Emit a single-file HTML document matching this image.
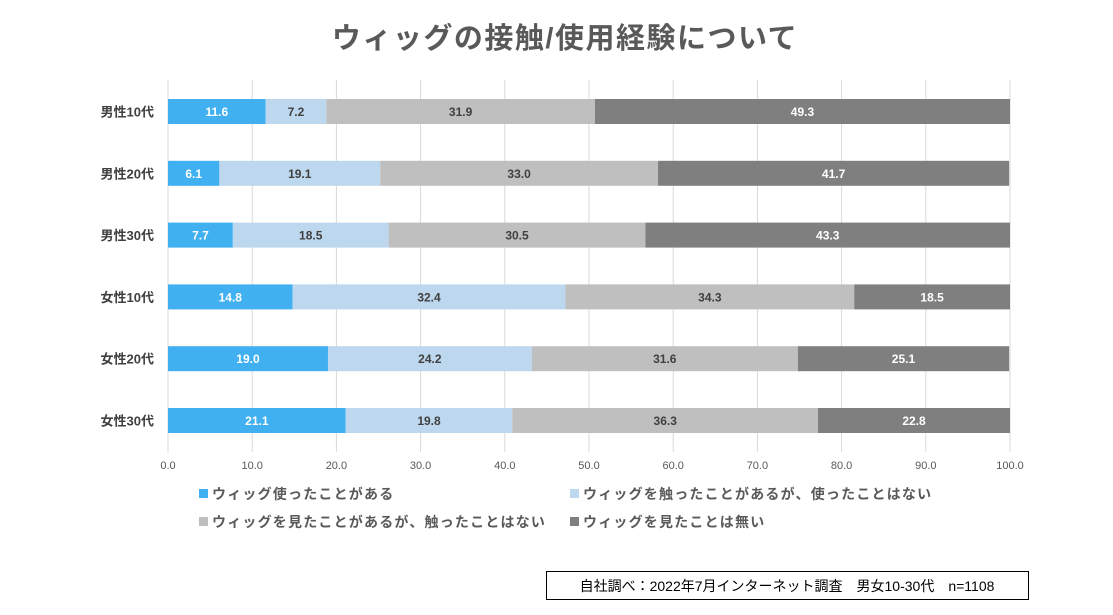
<!DOCTYPE html>
<html><head><meta charset="utf-8"><style>
body{margin:0;background:#fff;width:1113px;height:610px;overflow:hidden;font-family:"Liberation Sans","Noto Sans CJK JP",sans-serif}
</style></head><body>
<svg width="1113" height="610" xmlns="http://www.w3.org/2000/svg" font-family="Liberation Sans, Noto Sans CJK JP, sans-serif">
<text x="565" y="48" text-anchor="middle" font-size="29" font-weight="bold" fill="#595959" letter-spacing="1.5">ウィッグの接触/使用経験について</text>
<g id="grid"></g>
<g id="bars"></g>
<g id="ylab"></g>
<g id="xlab"></g>
<g id="legend"></g>
<rect x="546.5" y="571.5" width="482" height="28" fill="#fff" stroke="#000"/>
<text x="787" y="591" text-anchor="middle" font-size="14" fill="#000">自社調べ：2022年7月インターネット調査　男女10-30代　n=1108</text>
</svg>
<script>
const categories=["男性10代","男性20代","男性30代","女性10代","女性20代","女性30代"];
const used=[11.6,6.1,7.7,14.8,19.0,21.1];
const touched=[7.2,19.1,18.5,32.4,24.2,19.8];
const seen=[31.9,33.0,30.5,34.3,31.6,36.3];
const never=[49.3,41.7,43.3,18.5,25.1,22.8];
const seriesNames=["ウィッグ使ったことがある","ウィッグを触ったことがあるが、使ったことはない","ウィッグを見たことがあるが、触ったことはない","ウィッグを見たことは無い"];
const ticks=[0,10,20,30,40,50,60,70,80,90,100];
const NS="http://www.w3.org/2000/svg";
const colors=["#41b0f0","#bdd7ee","#bfbfbf","#7f7f7f"];
const textCol=["#fff","#404040","#404040","#fff"];
const x0=168,x1=1010,y0=80,y1=452;
const xs=v=>x0+(x1-x0)*v/100;
const yc=i=>111.5+i*61.8;
function mk(tag,attrs,parent){const e=document.createElementNS(NS,tag);for(const k in attrs)e.setAttribute(k,attrs[k]);parent.appendChild(e);return e;}
const grid=document.getElementById('grid'),bars=document.getElementById('bars'),ylab=document.getElementById('ylab'),xlab=document.getElementById('xlab'),legend=document.getElementById('legend');
ticks.forEach(t=>{
 const l=mk('line',{x1:xs(t),x2:xs(t),y1:y0,y2:y1,stroke:'#d9d9d9','stroke-width':1},grid);
 
 
 const tx=mk('text',{x:xs(t),y:469,'text-anchor':'middle','font-size':11,fill:'#595959'},xlab);
 tx.textContent=t.toFixed(1);
 
 
});
const series=[used,touched,seen,never];
categories.forEach((c,i)=>{
 const lb=mk('text',{x:154,y:yc(i)+5,'text-anchor':'end','font-size':13,'font-weight':'bold',fill:'#404040'},ylab);
 lb.textContent=c;
 
 
 let acc=0;
 series.forEach((s,k)=>{
  const v=s[i];
  const r=mk('rect',{x:xs(acc),y:yc(i)-12.5,width:xs(acc+v)-xs(acc),height:25,fill:colors[k]},bars);
  
  
  const t=mk('text',{x:(xs(acc)+xs(acc+v))/2,y:yc(i)+4.5,'text-anchor':'middle','font-size':12,'font-weight':'bold',fill:textCol[k]},bars);
  t.textContent=v.toFixed(1);
  
  
  acc+=v;
 });
});
const lpos=[[199,494],[570,494],[199,522],[570,522]];
seriesNames.forEach((n,k)=>{
 const sq=mk('rect',{x:lpos[k][0],y:lpos[k][1]-5,width:9,height:9,fill:colors[k]},legend);
 
 
 const t=mk('text',{x:lpos[k][0]+13,y:lpos[k][1]+5,'font-size':14,'font-weight':'bold','letter-spacing':'1.2',fill:'#595959'},legend);
 t.textContent=n;
 
 
});
</script>
</body></html>
